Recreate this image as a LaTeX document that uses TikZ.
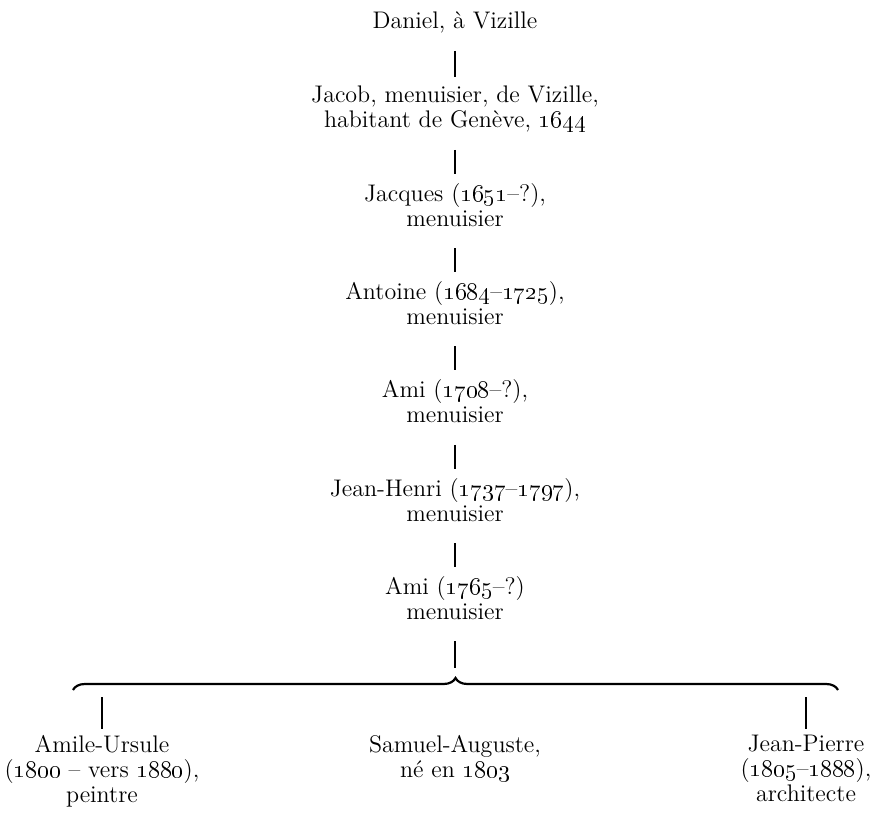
\documentclass[tikz,border=0pt]{standalone}
\usetikzlibrary{positioning,decorations.pathreplacing}
\tikzset{
  person/.style={align=center, inner sep=0pt, font=\fontsize{12}{12.5}\selectfont,
    execute at begin node=\strut, execute at end node=\strut},
  stem/.style={line width=1.4pt, shorten <=7pt, shorten >=4.5pt},
  curly/.style={line width=1.1pt, decorate, decoration={brace, amplitude=6pt}}
}
\newcommand{\yr}[1]{\oldstylenums{#1}}

\begin{document}
\begin{tikzpicture}[x=0.5pt, y=-0.5pt, node distance=23.5pt]
      \useasboundingbox (0,0) rectangle (872,817);
      % Define nodes
      \node[person, anchor=base]          (daniel) at (455,29) {Daniel, à Vizille};
      \node[person, below=24.5pt of daniel] (jacob) {Jacob, menuisier, de Vizille,\\ habitant de Genève, \yr{1644}};
      \node[person, below=of jacob]       (jacques) {Jacques (\yr{1651}–?),\\ menuisier};
      \node[person, below=of jacques]     (antoine) {Antoine (\yr{1684}–\yr{1725}),\\ menuisier};
      \node[person, below=of antoine]     (ami) {Ami (\yr{1708}–?),\\ menuisier};
      \node[person, below=of ami]         (jeanhenri) {Jean-Henri (\yr{1737}–\yr{1797}),\\ menuisier};
      \node[person, below=of jeanhenri]   (amii) {Ami (\yr{1765}–?)\\ menuisier};
      \node[person, anchor=north]         (amile) at (102,735) {Amile-Ursule\\ (\yr{1800} – vers \yr{1880}),\\ peintre};
      \node[person, anchor=north]         (samuel) at (455,735) {Samuel-Auguste,\\ né en \yr{1803}};
      \node[person, anchor=north]         (jeanpierre) at (806,735) {Jean-Pierre\\ (\yr{1805}–\yr{1888}),\\ architecte};
      \coordinate (tip) at (455,668);
      \coordinate (bl) at (73,690);
      \coordinate (br) at (838,690);
      \coordinate (kids) at (455,697);
      % Connect nodes
      \draw[stem] (daniel) -- (jacob);
      \draw[stem] (jacob) -- (jacques);
      \draw[stem] (jacques) -- (antoine);
      \draw[stem] (antoine) -- (ami);
      \draw[stem] (ami) -- (jeanhenri);
      \draw[stem] (jeanhenri) -- (amii);
      \draw[stem, shorten >=0pt] (amii) -- (tip);
      \draw[curly] (bl) -- (br);
      \draw[stem, shorten <=0pt, shorten >=3pt] (amile |- kids) -- (amile);
      \draw[stem, shorten <=0pt, shorten >=3pt] (jeanpierre |- kids) -- (jeanpierre);
    \end{tikzpicture}
\end{document}
